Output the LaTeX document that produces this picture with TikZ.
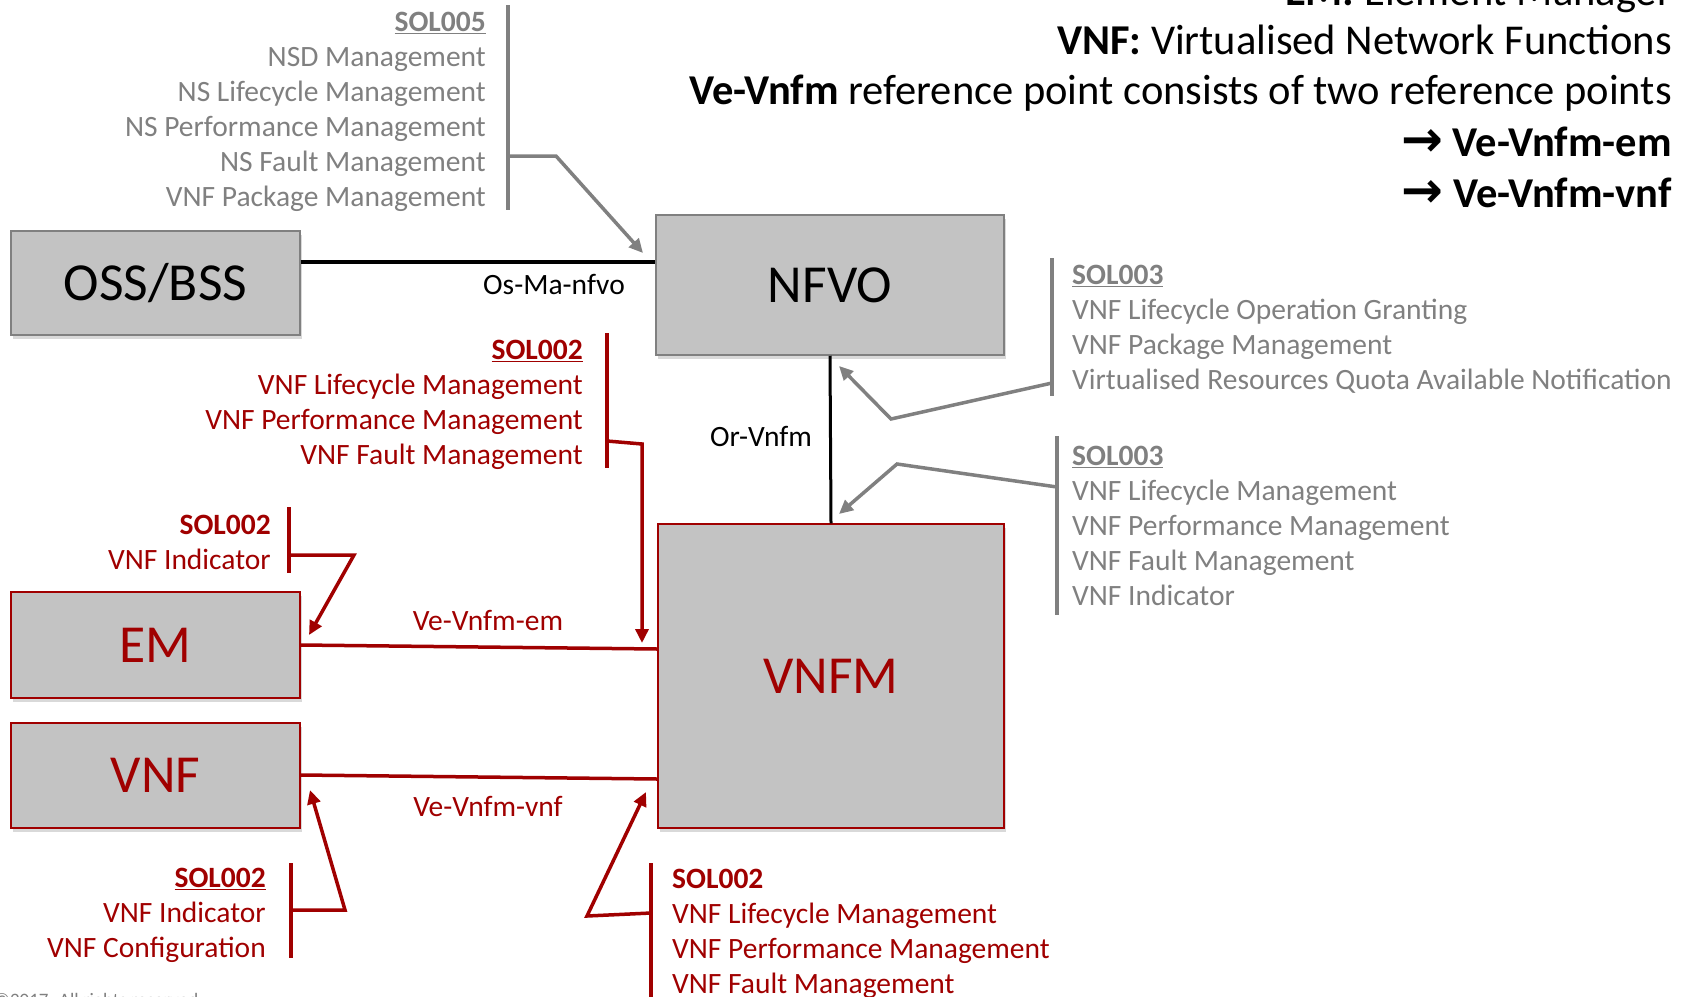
\documentclass[tikz,border=0pt]{standalone}
\usepackage{fontspec}
\setmainfont{Carlito}
\newfontfamily\arrowfont{DejaVu Sans}
\usetikzlibrary{arrows.meta,shadows}

\definecolor{boxgrey}{HTML}{C3C3C3}
\definecolor{solgrey}{HTML}{808080}
\definecolor{solred}{HTML}{A00000}

\begin{document}
\begin{tikzpicture}[x=1pt,y=-1pt,
	box/.style={draw=#1, line width=1.5pt, fill=boxgrey, inner sep=0pt,
		drop shadow={shadow xshift=2pt,shadow yshift=-4pt,opacity=0.3}},
	bigtext/.style={font=\fontsize{53.5}{60}\selectfont},
	list/.style={inner sep=0pt, font=\fontsize{29.5}{35}\selectfont, text=#1},
	hdr/.style={anchor=base east, inner sep=0pt, font=\fontsize{42.5}{50}\selectfont},
	conlabel/.style={inner sep=0pt, font=\fontsize{29.5}{34}\selectfont},
	bar/.style={draw=#1, line width=3.5pt},
	pointer/.style={draw=#1, line width=3.5pt, -{Triangle[length=14pt,width=13pt]}}
	]
	\useasboundingbox (0,0) rectangle (1686,996);

	% header
	\node[hdr] (hdrem)  at (1672,5)   {\textbf{EM:} Element Manager};
	\node[hdr] (hdrvnf) at (1672,54)  {\textbf{VNF:} Virtualised Network Functions};
	\node[hdr] (hdrve)  at (1672,104) {\textbf{Ve-Vnfm} reference point consists of two reference points};
	\node[hdr] (hdrvem) at (1672,156) {\textbf{{\arrowfont\fontsize{50}{50}\selectfont→} Ve-Vnfm-em}};
	\node[hdr] (hdrvnv) at (1672,207) {\textbf{{\arrowfont\fontsize{50}{50}\selectfont→} Ve-Vnfm-vnf}};

	% boxes
	\node[box=solgrey, minimum width=289pt, minimum height=104pt, bigtext] (oss)  at (155.5,283) {OSS/BSS};
	\node[box=solgrey, minimum width=348pt, minimum height=140pt, bigtext] (nfvo) at (830,285)   {NFVO};
	\node[box=solred, minimum width=289pt, minimum height=106pt, bigtext, text=solred] (em)   at (155.5,645) {EM};
	\node[box=solred, minimum width=289pt, minimum height=105pt, bigtext, text=solred] (vnf)  at (155.5,775.5) {VNF};
	\node[box=solred, minimum width=346pt, minimum height=304pt, bigtext, text=solred] (vnfm) at (831,676) {VNFM};

	% reference points
	\draw[line width=4pt] (oss.east |- 0,262) -- (nfvo.west |- 0,262);
	\node[conlabel] (osma) at (554,284) {Os-Ma-nfvo};
	\draw[line width=3pt] (nfvo.south) -- (vnfm.north);
	\node[conlabel] (orvnfm) at (761,436) {Or-Vnfm};
	\draw[solred, line width=3.5pt] (em.east |- 0,645) -- (vnfm.west |- 0,649);
	\node[conlabel, text=solred] (veem) at (488,620) {Ve-Vnfm-em};
	\draw[solred, line width=3.5pt] (vnf.east |- 0,775) -- (vnfm.west |- 0,779);
	\node[conlabel, text=solred] (vevnf) at (488,806) {Ve-Vnfm-vnf};

	% SOL005
	\node[list=solgrey, anchor=north east, align=right] (sol005) at (486,12)
		{\underline{\textbf{SOL005}}\\NSD Management\\NS Lifecycle Management\\NS Performance Management\\NS Fault Management\\VNF Package Management};
	\coordinate (sol005a) at (508,5);
	\coordinate (sol005b) at (508,210);
	\coordinate (sol005c) at (508,156);
	\coordinate (sol005d) at (556,156);
	\coordinate (sol005e) at (643,253);
	\draw[bar=solgrey] (sol005a) -- (sol005b);
	\draw[pointer=solgrey] (sol005c) -- (sol005d) -- (sol005e);

	% SOL003 towards NFVO
	\node[list=solgrey, anchor=north west, align=left] (sol003n) at (1072,265)
		{\underline{\textbf{SOL003}}\\VNF Lifecycle Operation Granting\\VNF Package Management\\Virtualised Resources Quota Available Notification};
	\coordinate (sol003na) at (1052,258);
	\coordinate (sol003nb) at (1052,396);
	\coordinate (sol003nc) at (1052,383);
	\coordinate (sol003nd) at (891,419);
	\coordinate (sol003ne) at (839,366);
	\draw[bar=solgrey] (sol003na) -- (sol003nb);
	\draw[pointer=solgrey] (sol003nc) -- (sol003nd) -- (sol003ne);

	% SOL003 towards VNFM
	\node[list=solgrey, anchor=north west, align=left] (sol003v) at (1072,446)
		{\underline{\textbf{SOL003}}\\VNF Lifecycle Management\\VNF Performance Management\\VNF Fault Management\\VNF Indicator};
	\coordinate (sol003va) at (1057,436);
	\coordinate (sol003vb) at (1057,615);
	\coordinate (sol003vc) at (1057,487);
	\coordinate (sol003vd) at (897,464);
	\coordinate (sol003ve) at (839,514);
	\draw[bar=solgrey] (sol003va) -- (sol003vb);
	\draw[pointer=solgrey] (sol003vc) -- (sol003vd) -- (sol003ve);

	% SOL002 towards VNFM (Ve-Vnfm-em)
	\node[list=solred, anchor=north east, align=right] (sol002m) at (583,340)
		{\underline{\textbf{SOL002}}\\VNF Lifecycle Management\\VNF Performance Management\\VNF Fault Management};
	\coordinate (sol002ma) at (607,333);
	\coordinate (sol002mb) at (607,468);
	\coordinate (sol002mc) at (607,441);
	\coordinate (sol002md) at (642,444);
	\coordinate (sol002me) at (642,643);
	\draw[bar=solred] (sol002ma) -- (sol002mb);
	\draw[pointer=solred] (sol002mc) -- (sol002md) -- (sol002me);

	% SOL002 towards EM
	\node[list=solred, anchor=north east, align=right] (sol002e) at (271,515)
		{\textbf{SOL002}\\VNF Indicator};
	\coordinate (sol002ea) at (289,507);
	\coordinate (sol002eb) at (289,573);
	\coordinate (sol002ec) at (289,555);
	\coordinate (sol002ed) at (354,555);
	\coordinate (sol002ee) at (309,635);
	\draw[bar=solred] (sol002ea) -- (sol002eb);
	\draw[pointer=solred] (sol002ec) -- (sol002ed) -- (sol002ee);

	% SOL002 towards VNF
	\node[list=solred, anchor=north east, align=right] (sol002f) at (266,868)
		{\underline{\textbf{SOL002}}\\VNF Indicator\\VNF Configuration};
	\coordinate (sol002fa) at (291,863);
	\coordinate (sol002fb) at (291,958);
	\coordinate (sol002fc) at (291,910);
	\coordinate (sol002fd) at (345,910);
	\coordinate (sol002fe) at (310,790);
	\draw[bar=solred] (sol002fa) -- (sol002fb);
	\draw[pointer=solred] (sol002fc) -- (sol002fd) -- (sol002fe);

	% SOL002 towards VNFM (Ve-Vnfm-vnf)
	\node[list=solred, anchor=north west, align=left] (sol002v) at (672,869)
		{\textbf{SOL002}\\VNF Lifecycle Management\\VNF Performance Management\\VNF Fault Management};
	\coordinate (sol002va) at (651,863);
	\coordinate (sol002vb) at (651,1000);
	\coordinate (sol002vc) at (651,913);
	\coordinate (sol002vd) at (587,916);
	\coordinate (sol002ve) at (646,792);
	\draw[bar=solred] (sol002va) -- (sol002vb);
	\draw[pointer=solred] (sol002vc) -- (sol002vd) -- (sol002ve);

	% footer
	\node[anchor=base west, inner sep=0pt, text=solgrey, font=\fontsize{19}{22}\selectfont] (copy) at (-6,1006) {©2017. All rights reserved.};
\end{tikzpicture}
\end{document}
